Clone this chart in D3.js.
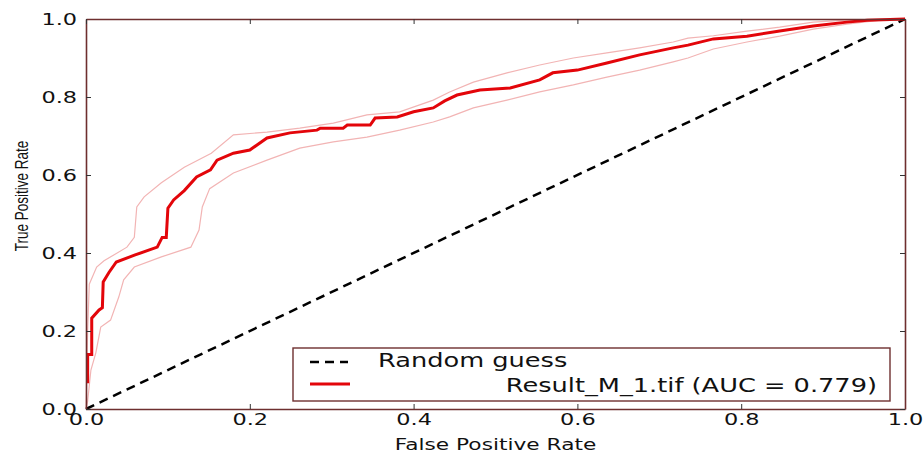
<!DOCTYPE html>
<html>
<head>
    <meta charset="utf-8">
    <script src="https://d3js.org/d3.v7.min.js"></script>
    <style>
        body { margin: 0; background: #fff; }
        svg { display: block; }
    </style>
</head>
<body>
    <svg id="roc"></svg>

    <script>
        // ROC data (false positive rate / true positive rate)
        const meanFpr = [0, 0.002, 0.002, 0.007, 0.007, 0.016, 0.020, 0.021, 0.028, 0.037, 0.060, 0.087, 0.093, 0.098, 0.100,
            0.107, 0.120, 0.135, 0.152, 0.160, 0.180, 0.200, 0.221, 0.249, 0.282, 0.286, 0.314, 0.319, 0.347, 0.353,
            0.380, 0.400, 0.424, 0.438, 0.453, 0.481, 0.518, 0.554, 0.570, 0.600, 0.636, 0.676, 0.717, 0.735, 0.766,
            0.807, 0.847, 0.888, 0.929, 0.954, 1.0];
        const meanTpr = [0.07, 0.07, 0.14, 0.14, 0.233, 0.254, 0.26, 0.326, 0.35, 0.377, 0.395, 0.415, 0.44, 0.44, 0.515,
            0.536, 0.56, 0.595, 0.613, 0.638, 0.656, 0.664, 0.695, 0.708, 0.715, 0.72, 0.72, 0.728, 0.728, 0.746,
            0.749, 0.762, 0.772, 0.79, 0.805, 0.818, 0.823, 0.844, 0.862, 0.869, 0.887, 0.908, 0.926, 0.933, 0.949,
            0.956, 0.969, 0.982, 0.992, 0.997, 1.0];

        const upperFpr = [0, 0.002, 0.004, 0.013, 0.022, 0.05, 0.059, 0.062, 0.071, 0.092, 0.12, 0.153, 0.18, 0.221, 0.261,
            0.302, 0.343, 0.383, 0.424, 0.444, 0.473, 0.514, 0.554, 0.595, 0.636, 0.676, 0.717, 0.735, 0.766, 0.807,
            0.847, 0.888, 0.929, 1.0];
        const upperTpr = [0, 0.2, 0.32, 0.364, 0.38, 0.415, 0.44, 0.518, 0.544, 0.58, 0.62, 0.656, 0.703, 0.71, 0.72,
            0.733, 0.754, 0.762, 0.792, 0.813, 0.838, 0.862, 0.882, 0.9, 0.913, 0.926, 0.941, 0.951, 0.957, 0.969,
            0.979, 0.992, 0.997, 1.0];

        const lowerFpr = [0, 0.002, 0.006, 0.012, 0.018, 0.03, 0.04, 0.046, 0.059, 0.092, 0.128, 0.138, 0.142, 0.151, 0.18,
            0.221, 0.261, 0.302, 0.343, 0.383, 0.424, 0.444, 0.473, 0.514, 0.554, 0.595, 0.636, 0.676, 0.717, 0.735,
            0.766, 0.807, 0.847, 0.888, 0.929, 0.97, 1.0];
        const lowerTpr = [0, 0.02, 0.1, 0.144, 0.21, 0.228, 0.287, 0.331, 0.364, 0.39, 0.415, 0.459, 0.518, 0.565, 0.605,
            0.638, 0.669, 0.685, 0.697, 0.715, 0.736, 0.749, 0.772, 0.792, 0.813, 0.831, 0.851, 0.869, 0.89, 0.9,
            0.923, 0.941, 0.956, 0.974, 0.987, 0.997, 1.0];

        const guessFpr = [0, 1];
        const guessTpr = [0, 1];

        const xTicks = [0, 0.2, 0.4, 0.6, 0.8, 1.0];
        const yTicks = [0, 0.2, 0.4, 0.6, 0.8, 1.0];
        const legendLabels = ["Random guess", "Result_M_1.tif (AUC = 0.779)"];

        // picture is stretched sideways, so text gets a horizontal scale
        const stretch = 1.4;
        const frameColor = "#6e2f2f";

        const width = 924, height = 452;
        const margin = { top: 19, right: 19, bottom: 43, left: 86 };

        const svg = d3.select("#roc").attr("width", width).attr("height", height);

        const x = d3.scaleLinear().domain([0, 1]).range([margin.left, width - margin.right]);
        const y = d3.scaleLinear().domain([0, 1]).range([height - margin.bottom, margin.top]);

        const zip = (a, b) => a.map((v, i) => [v, b[i]]);
        const line = d3.line().x(d => x(d[0])).y(d => y(d[1]));

        // confidence bounds
        [[upperFpr, upperTpr], [lowerFpr, lowerTpr]].forEach(([f, t]) => {
            svg.append("path")
                .attr("d", line(zip(f, t)))
                .attr("fill", "none")
                .attr("stroke", "#f2b4b4")
                .attr("stroke-width", 1.2);
        });

        // random guess diagonal
        svg.append("path")
            .attr("d", line(zip(guessFpr, guessTpr)))
            .attr("fill", "none")
            .attr("stroke", "#000")
            .attr("stroke-width", 2.5)
            .attr("stroke-dasharray", "9,6");

        // mean ROC
        svg.append("path")
            .attr("d", line(zip(meanFpr, meanTpr)))
            .attr("fill", "none")
            .attr("stroke", "#e3050a")
            .attr("stroke-width", 3)
            .attr("stroke-linejoin", "miter");

        // axes (ticks pointing inward on all four sides)
        function styleAxis(g) {
            g.select(".domain").attr("stroke", frameColor).attr("stroke-width", 1.6);
            g.selectAll(".tick line").attr("stroke", "#333").attr("stroke-width", 1);
            g.selectAll(".tick text")
                .attr("fill", "#111")
                .attr("font-family", "DejaVu Sans, Verdana, sans-serif")
                .attr("font-size", 16)
                .attr("transform", `scale(${stretch},1)`);
        }

        svg.append("g")
            .attr("transform", `translate(0,${y(0)})`)
            .call(d3.axisBottom(x).tickValues(xTicks).tickFormat(d3.format(".1f")).tickSize(-5).tickSizeOuter(0).tickPadding(5))
            .call(styleAxis);

        svg.append("g")
            .attr("transform", `translate(${x(0)},0)`)
            .call(d3.axisLeft(y).tickValues(yTicks).tickFormat(d3.format(".1f")).tickSize(-5).tickSizeOuter(0).tickPadding(6.4))
            .call(styleAxis);

        svg.append("g")
            .attr("transform", `translate(0,${y(1)})`)
            .call(d3.axisTop(x).tickValues(xTicks).tickFormat("").tickSize(-5).tickSizeOuter(0))
            .call(styleAxis);

        svg.append("g")
            .attr("transform", `translate(${x(1)},0)`)
            .call(d3.axisRight(y).tickValues(yTicks).tickFormat("").tickSize(-5).tickSizeOuter(0))
            .call(styleAxis);

        // axis titles
        svg.append("text")
            .attr("transform", `translate(${(x(0) + x(1)) / 2},450) scale(${stretch},1)`)
            .attr("text-anchor", "middle")
            .attr("font-family", "DejaVu Sans, Verdana, sans-serif")
            .attr("font-size", 15.5)
            .attr("fill", "#111")
            .text("False Positive Rate");

        svg.append("text")
            .attr("transform", `translate(28,196) scale(${stretch},1) rotate(-90)`)
            .attr("text-anchor", "middle")
            .attr("font-family", "Liberation Sans Narrow, Arial Narrow, sans-serif")
            .attr("font-size", 13.5)
            .attr("fill", "#111")
            .text("True Positive Rate");

        // legend
        const legend = svg.append("g");
        legend.append("rect")
            .attr("x", 293).attr("y", 348)
            .attr("width", 597).attr("height", 53)
            .attr("fill", "#fff")
            .attr("stroke", frameColor)
            .attr("stroke-width", 1.4);

        legend.append("line")
            .attr("x1", 310).attr("x2", 348).attr("y1", 362).attr("y2", 362)
            .attr("stroke", "#000").attr("stroke-width", 2.5).attr("stroke-dasharray", "9,6");
        legend.append("line")
            .attr("x1", 310).attr("x2", 350).attr("y1", 384).attr("y2", 384)
            .attr("stroke", "#e3050a").attr("stroke-width", 3);

        legend.append("text")
            .attr("transform", `translate(378,367) scale(1.35,1)`)
            .attr("font-family", "DejaVu Sans, Verdana, sans-serif")
            .attr("font-size", 19)
            .attr("fill", "#111")
            .text(legendLabels[0]);

        legend.append("text")
            .attr("transform", `translate(877,392) scale(1.35,1)`)
            .attr("text-anchor", "end")
            .attr("font-family", "DejaVu Sans, Verdana, sans-serif")
            .attr("font-size", 19)
            .attr("fill", "#111")
            .text(legendLabels[1]);
    </script>
</body>
</html>
